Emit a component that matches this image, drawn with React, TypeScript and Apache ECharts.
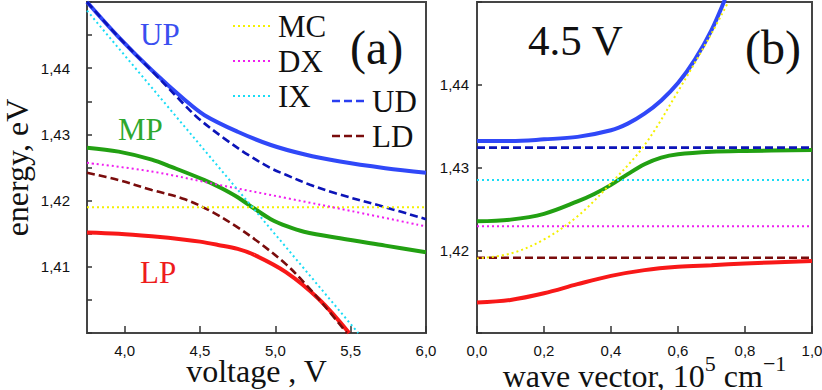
import React, { useEffect, useRef } from "react";
import * as echarts from "echarts";

// ---------- data ----------
// panel (a): energy (eV) vs voltage (V)
const voltageTicks = [4.0, 4.5, 5.0, 5.5, 6.0];
const UP_A: [number, number][] = [[3.75, 1.4500], [3.96, 1.4447], [4.18, 1.4397], [4.40, 1.4352], [4.53, 1.4329], [4.75, 1.4304], [4.97, 1.4284], [5.19, 1.4270], [5.43, 1.4259], [5.73, 1.4249], [6.00, 1.4242]];
const UD_A: [number, number][] = [[3.75, 1.4500], [3.96, 1.4447], [4.18, 1.4396], [4.40, 1.4344], [4.49, 1.4324], [4.66, 1.4294], [4.82, 1.4269], [4.97, 1.4249], [5.07, 1.4239], [5.23, 1.4224], [5.40, 1.4211], [5.73, 1.4190], [6.00, 1.4172]];
const MP_A: [number, number][] = [[3.75, 1.4280], [3.96, 1.4274], [4.18, 1.4262], [4.31, 1.4251], [4.53, 1.4231], [4.64, 1.4219], [4.75, 1.4205], [4.86, 1.4188], [4.97, 1.4172], [5.08, 1.4161], [5.19, 1.4153], [5.43, 1.4143], [5.73, 1.4132], [6.00, 1.4122]];
const DX_A: [number, number][] = [[3.75, 1.4257], [4.18, 1.4244], [4.62, 1.4224], [5.07, 1.4204], [5.51, 1.4184], [6.00, 1.4161]];
const MC_A: [number, number][] = [[3.75, 1.4190], [6.00, 1.4190]];
const IX_A: [number, number][] = [[3.75, 1.4487], [5.55, 1.4000]];
const LD_A: [number, number][] = [[3.75, 1.4242], [3.96, 1.4231], [4.18, 1.4216], [4.40, 1.4202], [4.58, 1.4183], [4.74, 1.4161], [4.89, 1.4137], [5.07, 1.4104], [5.20, 1.4074], [5.33, 1.4040], [5.475, 1.4000]];
const LP_A: [number, number][] = [[3.75, 1.4152], [3.96, 1.4150], [4.18, 1.4146], [4.40, 1.4141], [4.50, 1.4138], [4.62, 1.4133], [4.75, 1.4127], [4.86, 1.4118], [5.07, 1.4092], [5.29, 1.4051], [5.49, 1.4000]];

// panel (b): energy (eV) vs wave vector (10^5 cm^-1) at 4.5 V
const UP_B: [number, number][] = [[0, 1.4332], [0.1, 1.4332], [0.2, 1.4334], [0.3, 1.4337], [0.4, 1.4345], [0.45, 1.4353], [0.5, 1.4365], [0.55, 1.4381], [0.6, 1.4402], [0.65, 1.4430], [0.7, 1.4466], [0.74, 1.4503]];
const MP_B: [number, number][] = [[0, 1.4235], [0.1, 1.4237], [0.2, 1.4244], [0.3, 1.4259], [0.35, 1.4268], [0.4, 1.4279], [0.45, 1.4292], [0.5, 1.4304], [0.55, 1.4312], [0.6, 1.4316], [0.7, 1.4319], [0.8, 1.4320], [1.0, 1.4321]];
const LP_B: [number, number][] = [[0, 1.4137], [0.1, 1.4140], [0.2, 1.4148], [0.3, 1.4159], [0.4, 1.4169], [0.5, 1.4176], [0.6, 1.4180], [0.7, 1.4182], [0.8, 1.4184], [1.0, 1.4187]];
const MC_B: [number, number][] = [[0, 1.4190], [0.1, 1.4196], [0.2, 1.4213], [0.3, 1.4241], [0.4, 1.4281], [0.5, 1.4327], [0.6, 1.4392], [0.7, 1.4462], [0.75, 1.4500]];
const UD_B: [number, number][] = [[0, 1.4324], [1.0, 1.4324]];
const IX_B: [number, number][] = [[0, 1.4285], [1.0, 1.4285]];
const DX_B: [number, number][] = [[0, 1.4229], [1.0, 1.4229]];
const LD_B: [number, number][] = [[0, 1.4191], [1.0, 1.4191]];

// ---------- styles ----------
const C = {
  UP: "#3048f8",
  UD: "#0c14b8",
  MP: "#22a012",
  LP: "#f81818",
  LD: "#7a0c0c",
  MC: "#f4f000",
  DX: "#f01ef0",
  IX: "#1adcf5",
};
const SERIF = "Liberation Serif";
const SANS = "Liberation Sans";
const DOT = [2, 3];
const DASH = [8, 4];

const comma = (d: number) => (v: number) => v.toFixed(d).replace(".", ",");

function line(name: string, data: [number, number][], color: string, kind: "solid" | "dash" | "dot", panel: number, z: number) {
  const width = kind === "solid" ? 4 : kind === "dash" ? 2.6 : 2;
  return {
    type: "line",
    name,
    data,
    xAxisIndex: panel,
    yAxisIndex: panel,
    showSymbol: false,
    symbol: "none",
    smooth: data.length > 2 ? 0.35 : false,
    clip: true,
    z,
    lineStyle: {
      color,
      width,
      type: kind === "solid" ? "solid" : kind === "dash" ? DASH : DOT,
      cap: "butt",
    },
  };
}

export default function App() {
  const ref = useRef<HTMLDivElement>(null);
  useEffect(() => {
    if (!ref.current) return;
    const chart = echarts.init(ref.current, null, { renderer: "svg" });
    const tickStyle = { color: "#333", width: 1.5 };
    const frame = {
      show: true,
      borderColor: "#454545",
      borderWidth: 2,
      backgroundColor: "transparent",
      containLabel: false,
      outerBoundsMode: "none",
    };
    const yLabel = (margin: number, lo: number, hi: number) => ({
      fontFamily: SANS,
      fontSize: 15,
      color: "#111",
      margin,
      formatter: (v: number) => (Math.abs(v - lo) < 1e-6 || Math.abs(v - hi) < 1e-6 ? "" : comma(2)(v)),
    });
    const txt = (text: string, x: number, y: number, size: number, fill: string) => ({
      type: "text",
      x,
      y,
      z: 100,
      style: { text, fontFamily: SERIF, fontSize: size, fill, verticalAlign: "middle" },
    });
    const leg = (x1: number, x2: number, y: number, color: string, dash: number[], w: number) => ({
      type: "line",
      z: 100,
      shape: { x1, y1: y, x2, y2: y },
      style: { stroke: color, lineWidth: w, lineDash: dash },
    });

    const option: any = {
      animation: false,
      grid: [
        { left: 87, top: 2, width: 339, height: 331, ...frame },
        { left: 477, top: 2, width: 335, height: 331, ...frame },
      ],
      xAxis: [
        {
          type: "value",
          gridIndex: 0,
          min: 3.75,
          max: 6.0,
          name: "voltage , V",
          nameLocation: "middle",
          nameGap: 22,
          nameMoveOverlap: false,
          nameTextStyle: { fontFamily: SERIF, fontSize: 32, color: "#111" },
          axisLine: { show: false },
          splitLine: { show: false },
          axisTick: { show: true, inside: true, length: 7, lineStyle: tickStyle, customValues: voltageTicks },
          axisLabel: { fontFamily: SANS, fontSize: 15, color: "#111", margin: 10, customValues: voltageTicks, formatter: comma(1) },
        },
        {
          type: "value",
          gridIndex: 1,
          min: 0,
          max: 1,
          interval: 0.2,
          name: "{t|wave vector, 10}{s|5}{t| cm}{s|−1}",
          nameLocation: "middle",
          nameGap: 19,
          nameMoveOverlap: false,
          nameTextStyle: {
            fontFamily: SERIF,
            fontSize: 32,
            color: "#111",
            rich: {
              t: { fontFamily: SERIF, fontSize: 32, color: "#111", verticalAlign: "bottom", lineHeight: 40 },
              s: { fontFamily: SERIF, fontSize: 22, color: "#111", verticalAlign: "top", lineHeight: 22 },
            },
          },
          axisLine: { show: false },
          splitLine: { show: false },
          axisTick: { show: true, inside: true, length: 7, lineStyle: tickStyle },
          axisLabel: { fontFamily: SANS, fontSize: 15, color: "#111", margin: 10, formatter: comma(1), showMaxLabel: true, showMinLabel: true },
        },
      ],
      yAxis: [
        {
          type: "value",
          gridIndex: 0,
          min: 1.4,
          max: 1.45,
          interval: 0.01,
          name: "energy, eV",
          nameLocation: "middle",
          nameGap: 54,
          nameMoveOverlap: false,
          nameTextStyle: { fontFamily: SERIF, fontSize: 32, color: "#111" },
          axisLine: { show: false },
          splitLine: { show: false },
          axisTick: { show: true, inside: true, length: 5, lineStyle: tickStyle },
          minorTick: { show: true, splitNumber: 2, length: 5, lineStyle: tickStyle },
          axisLabel: yLabel(17, 1.4, 1.45),
        },
        {
          type: "value",
          gridIndex: 1,
          min: 1.41,
          max: 1.45,
          interval: 0.01,
          axisLine: { show: false },
          splitLine: { show: false },
          axisTick: { show: true, inside: true, length: 5, lineStyle: tickStyle },
          axisLabel: yLabel(8, 1.41, 1.45),
        },
      ],
      series: [
        line("UP", UP_A, C.UP, "solid", 0, 2),
        line("MP", MP_A, C.MP, "solid", 0, 2),
        line("LP", LP_A, C.LP, "solid", 0, 2),
        line("UD", UD_A, C.UD, "dash", 0, 3),
        line("LD", LD_A, C.LD, "dash", 0, 3),
        line("MC", MC_A, C.MC, "dot", 0, 4),
        line("DX", DX_A, C.DX, "dot", 0, 4),
        line("IX", IX_A, C.IX, "dot", 0, 4),
        line("UP", UP_B, C.UP, "solid", 1, 2),
        line("MP", MP_B, C.MP, "solid", 1, 2),
        line("LP", LP_B, C.LP, "solid", 1, 2),
        line("UD", UD_B, C.UD, "dash", 1, 3),
        line("LD", LD_B, C.LD, "dash", 1, 3),
        line("MC", MC_B, C.MC, "dot", 1, 4),
        line("DX", DX_B, C.DX, "dot", 1, 4),
        line("IX", IX_B, C.IX, "dot", 1, 4),
      ],
      graphic: [
        txt("UP", 140, 34, 31, "#3a4ff0"),
        txt("MP", 118, 129, 31, "#2ea82e"),
        txt("LP", 140, 272, 31, "#ee1c1c"),
        txt("(a)", 350, 47, 48, "#111"),
        txt("4.5 V", 528, 40, 43, "#111"),
        txt("(b)", 745, 47, 48, "#111"),
        leg(233, 272, 26, C.MC, DOT, 2),
        txt("MC", 278, 26, 31, "#111"),
        leg(233, 272, 61, C.DX, DOT, 2),
        txt("DX", 278, 61, 31, "#111"),
        leg(233, 272, 96, C.IX, DOT, 2),
        txt("IX", 278, 96, 31, "#111"),
        leg(332, 364, 101, "#2a3ef0", DASH, 2.6),
        txt("UD", 372, 101, 31, "#111"),
        leg(332, 364, 136, C.LD, DASH, 2.6),
        txt("LD", 372, 136, 31, "#111"),
      ],
    };
    chart.setOption(option);
    return () => chart.dispose();
  }, []);
  return <div ref={ref} style={{ position: "absolute", left: 0, top: 0, width: 822, height: 390 }} />;
}
